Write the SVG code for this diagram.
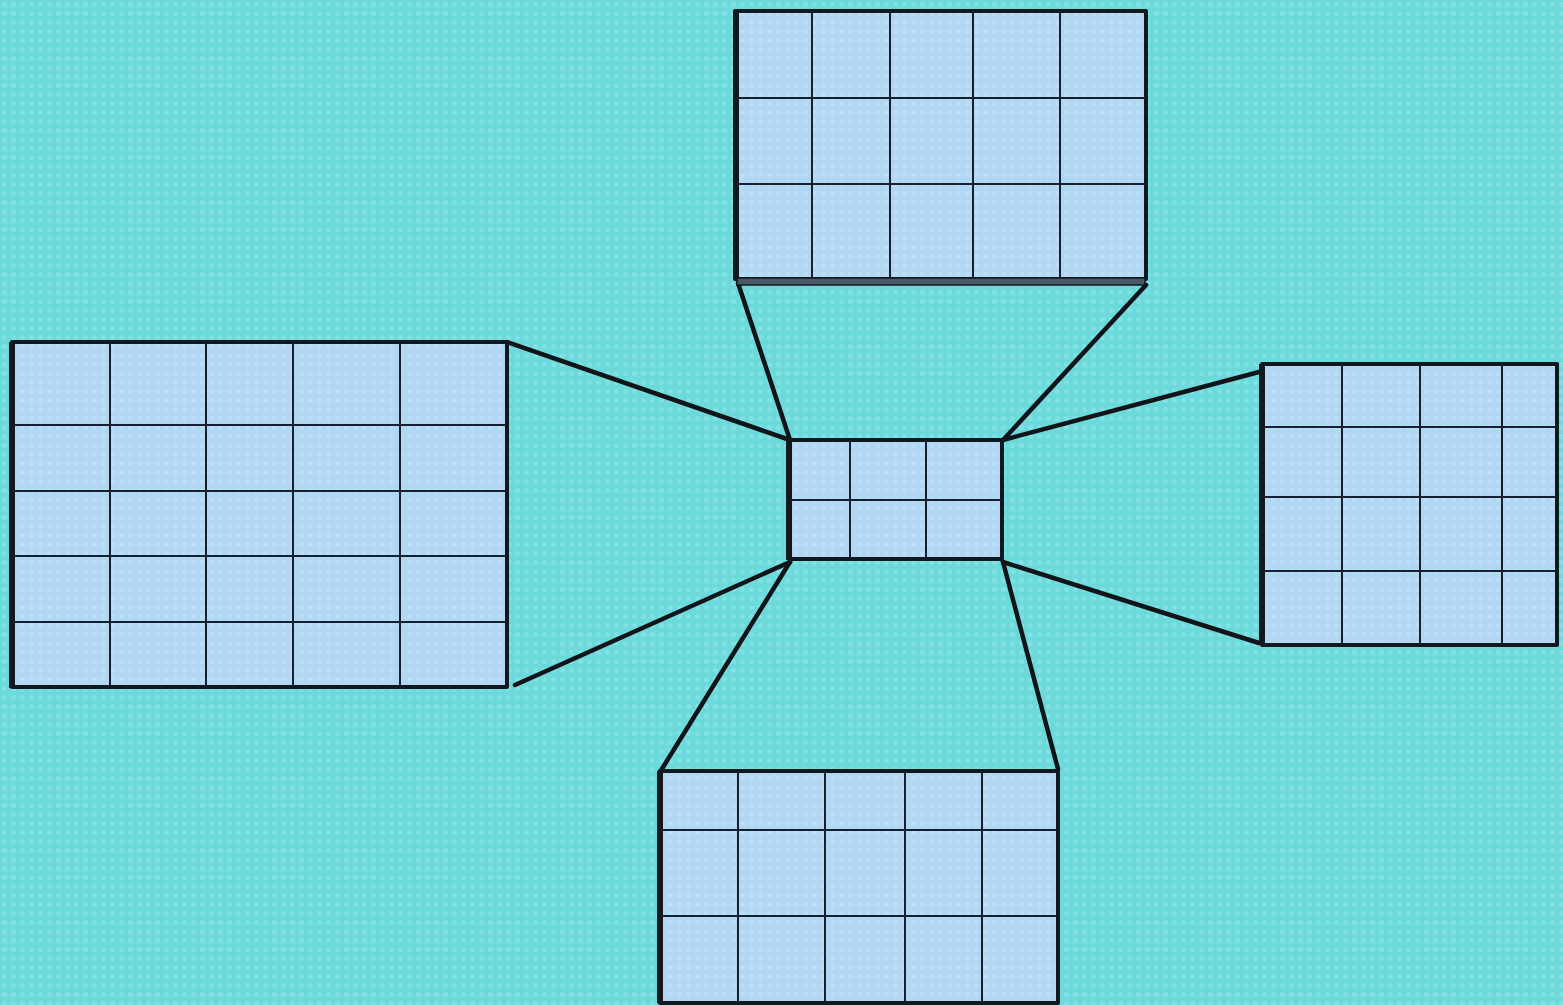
<svg xmlns="http://www.w3.org/2000/svg" width="1563" height="1005" viewBox="0 0 1563 1005">
<defs>
<pattern id="bgdots" width="9" height="9" patternUnits="userSpaceOnUse">
<rect width="9" height="9" fill="#6cd9da"/>
<circle cx="4.5" cy="4.5" r="2.6" fill="#86e3e4" opacity="0.8"/>
</pattern>
<pattern id="boxdots" width="9" height="9" patternUnits="userSpaceOnUse">
<rect width="9" height="9" fill="#b1d7f3"/>
<circle cx="4.5" cy="4.5" r="2.4" fill="#bde0f6" opacity="0.8"/>
</pattern>
</defs>
<style>
.panel{fill:url(#boxdots);stroke:#111820;stroke-width:4;stroke-linejoin:round}
.grid{stroke:#162030;stroke-width:2;fill:none}
.conn{stroke:#111418;stroke-width:4.5;fill:none;stroke-linecap:round}
.edge{stroke:#111820;stroke-width:6;fill:none}
</style>
<rect width="1563" height="1005" fill="url(#bgdots)"/>
<g id="connectors">
<line class="conn" x1="738" y1="283" x2="790" y2="440"/>
<line class="conn" x1="1146" y1="285" x2="1003" y2="440"/>
<line class="conn" x1="507" y1="342" x2="790" y2="440"/>
<line class="conn" x1="515" y1="685" x2="790" y2="562"/>
<line class="conn" x1="1259" y1="372" x2="1003" y2="440"/>
<line class="conn" x1="1259" y1="643" x2="1003" y2="562"/>
<line class="conn" x1="790" y1="562" x2="660" y2="772"/>
<line class="conn" x1="1003" y1="562" x2="1058" y2="769"/>
</g>
<g id="top-panel">
<rect class="panel" x="735" y="11" width="411" height="268"/>
<rect x="737" y="278" width="408" height="7" fill="#4a5a64" stroke="#111820" stroke-width="1.5"/>
<line class="edge" x1="736" y1="11" x2="736" y2="279"/>
<path class="grid" d="M812 12V278M890 12V278M973 12V278M1060 12V278M736 98H1146M736 184H1146"/>
</g>
<g id="left-panel">
<rect class="panel" x="12" y="342" width="495" height="345"/>
<line class="edge" x1="12" y1="342" x2="12" y2="688"/>
<path class="grid" d="M110 343V686M206 343V686M293 343V686M400 343V686M13 425H506M13 491H506M13 556H506M13 622H506"/>
</g>
<g id="right-panel">
<rect class="panel" x="1262" y="364" width="295" height="281"/>
<line class="edge" x1="1262" y1="364" x2="1262" y2="645"/>
<path class="grid" d="M1342 365V644M1420 365V644M1502 365V644M1263 427H1556M1263 497H1556M1263 571H1556"/>
</g>
<g id="bottom-panel">
<rect class="panel" x="660" y="771" width="398" height="232"/>
<line class="edge" x1="660" y1="771" x2="660" y2="1003"/>
<path class="grid" d="M738 772V1002M825 772V1002M905 772V1002M982 772V1002M661 830H1057M661 916H1057"/>
</g>
<g id="center-panel">
<rect class="panel" x="789" y="440" width="213" height="119"/>
<line class="edge" x1="789" y1="440" x2="789" y2="560"/>
<path class="grid" d="M850 441V558M926 441V558M790 500H1001"/>
</g>
</svg>
